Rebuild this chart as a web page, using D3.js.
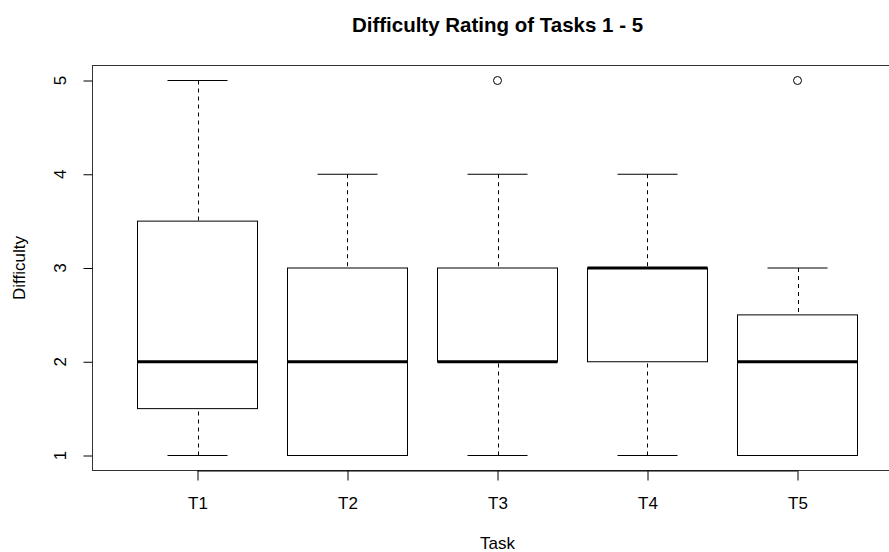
<!DOCTYPE html>
<html>
<head>
<meta charset="utf-8">
<script src="https://cdn.jsdelivr.net/npm/d3@7"></script>
<style>
  html, body { margin: 0; padding: 0; background: #fff; }
  svg { display: block; font-family: "Liberation Sans", Arial, Helvetica, sans-serif; }
</style>
</head>
<body>
<svg id="chart" width="889" height="552"></svg>
<script>
// Five-number summaries per task (difficulty ratings 1–5)
const tasks       = ["T1", "T2", "T3", "T4", "T5"];
const whiskerLow  = [1, 1, 1, 1, 1];
const boxLow      = [1.5, 1, 2, 2, 1];
const medians     = [2, 2, 2, 3, 2];
const boxHigh     = [3.5, 3, 3, 3, 2.5];
const whiskerHigh = [5, 4, 4, 4, 3];
const outliers    = [[], [], [5], [], [5]];
const yTicks      = [1, 2, 3, 4, 5];

const svg = d3.select("#chart");

// Plot region follows R's default 4% axis extension
const x = d3.scaleLinear().domain([0.3, 5.7]).range([92.5, 902.5]);
const y = d3.scaleLinear().domain([0.84, 5.16]).range([470.5, 65.5]);

const boxHalf = 0.4;     // box width = 0.8 category units
const stapleHalf = 0.2;  // staple = half box width

const data = tasks.map((t, i) => ({
  t, i: i + 1,
  wl: whiskerLow[i], q1: boxLow[i], med: medians[i], q3: boxHigh[i], wh: whiskerHigh[i],
  out: outliers[i]
}));

const g = svg.append("g");

// Whiskers (dashed)
g.selectAll(".whisker-lo").data(data).join("line")
  .attr("x1", d => Math.round(x(d.i)) + 0.5).attr("x2", d => Math.round(x(d.i)) + 0.5)
  .attr("y1", d => y(d.wl)).attr("y2", d => y(d.q1))
  .attr("stroke", "#000").attr("stroke-dasharray", "4,4");
g.selectAll(".whisker-hi").data(data).join("line")
  .attr("x1", d => Math.round(x(d.i)) + 0.5).attr("x2", d => Math.round(x(d.i)) + 0.5)
  .attr("y1", d => y(d.wh)).attr("y2", d => y(d.q3))
  .attr("stroke", "#000").attr("stroke-dasharray", "4,4");

// Staples
["wl", "wh"].forEach(k => {
  g.selectAll(".staple-" + k).data(data).join("line")
    .attr("x1", d => x(d.i - stapleHalf)).attr("x2", d => x(d.i + stapleHalf))
    .attr("y1", d => y(d[k])).attr("y2", d => y(d[k]))
    .attr("stroke", "#000");
});

// Boxes
g.selectAll("rect.box").data(data).join("rect")
  .attr("x", d => x(d.i - boxHalf)).attr("width", d => x(d.i + boxHalf) - x(d.i - boxHalf))
  .attr("y", d => y(d.q3)).attr("height", d => y(d.q1) - y(d.q3))
  .attr("fill", "#fff").attr("stroke", "#000");

// Medians
g.selectAll(".median").data(data).join("line")
  .attr("x1", d => x(d.i - boxHalf)).attr("x2", d => x(d.i + boxHalf))
  .attr("y1", d => y(d.med)).attr("y2", d => y(d.med))
  .attr("stroke", "#000").attr("stroke-width", 3);

// Outliers
const outPts = data.flatMap(d => d.out.map(v => ({ i: d.i, v })));
g.selectAll("circle.out").data(outPts).join("circle")
  .attr("cx", d => x(d.i)).attr("cy", d => y(d.v)).attr("r", 4)
  .attr("fill", "none").attr("stroke", "#000");

// Plot frame (left, top, bottom; right side lies beyond the canvas)
svg.append("rect")
  .attr("x", x.range()[0]).attr("y", y.range()[1])
  .attr("width", x.range()[1] - x.range()[0]).attr("height", y.range()[0] - y.range()[1])
  .attr("fill", "none").attr("stroke", "#333");

// Y axis
const yAxis = svg.append("g")
  .attr("transform", `translate(${x.range()[0]},0)`)
  .call(d3.axisLeft(y).tickValues(yTicks).tickSize(9).tickFormat(d3.format("d")));
yAxis.select(".domain").remove();
yAxis.selectAll("text").remove();
yAxis.selectAll("line").attr("stroke", "#000");
svg.append("g").selectAll("text").data(yTicks).join("text")
  .attr("transform", d => `translate(66,${y(d)}) rotate(-90)`)
  .attr("text-anchor", "middle")
  .attr("font-size", 17)
  .text(d => d);

// X axis
const xAxis = svg.append("g")
  .attr("transform", `translate(0,${y.range()[0]})`)
  .call(d3.axisBottom(x).tickValues(d3.range(1, tasks.length + 1)).tickSize(10)
    .tickFormat(d => tasks[d - 1]));
xAxis.select(".domain").attr("d", `M${x(1)},0.5H${x(tasks.length)}`).attr("stroke", "#000");
xAxis.selectAll("line").attr("stroke", "#000");
xAxis.selectAll("text").attr("font-size", 17).attr("fill", "#000")
  .attr("dy", null).attr("y", 38);

// Titles
svg.append("text")
  .attr("x", (x.range()[0] + x.range()[1]) / 2).attr("y", 32)
  .attr("text-anchor", "middle").attr("font-weight", "bold").attr("font-size", 20.5)
  .text("Difficulty Rating of Tasks 1 - 5");

svg.append("text")
  .attr("x", (x.range()[0] + x.range()[1]) / 2).attr("y", 549)
  .attr("text-anchor", "middle").attr("font-size", 17)
  .text("Task");

svg.append("text")
  .attr("transform", `translate(25,${(y.range()[0] + y.range()[1]) / 2}) rotate(-90)`)
  .attr("text-anchor", "middle").attr("font-size", 17)
  .text("Difficulty");
</script>
</body>
</html>
